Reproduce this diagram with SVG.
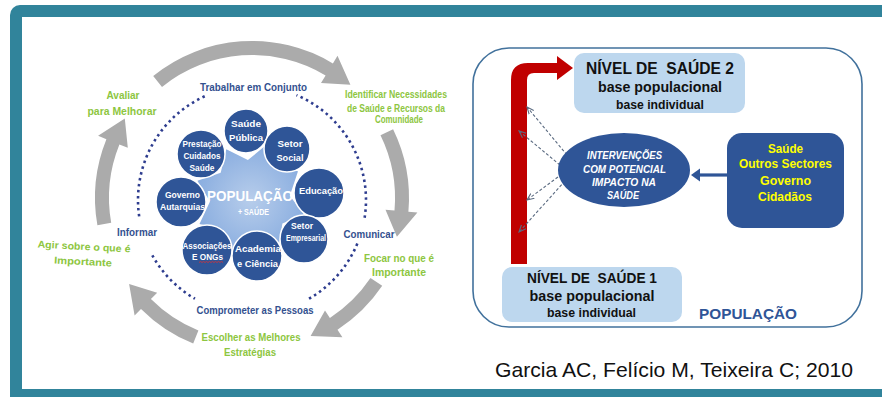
<svg xmlns="http://www.w3.org/2000/svg" width="882" height="397" viewBox="0 0 882 397">
<defs>
<style>
text{font-family:"Liberation Sans",Arial,sans-serif;font-weight:bold;text-anchor:middle}
.gl{fill:#8DC641;font-size:10px}
.nv{fill:#34518F;font-size:10px}
.wc{fill:#fff;font-size:9px}
.circ{fill:#2F5597;stroke:#fff;stroke-width:1.5}
.garrow{fill:#ABABAB}
.dot{fill:none;stroke:#2E3D8F;stroke-width:2.6;stroke-dasharray:2.5 3.5}
.dash{fill:none;stroke:#5A6A80;stroke-width:1.1;stroke-dasharray:3 2;marker-end:url(#ah)}
.bk{fill:#111;white-space:pre}
.yl{fill:#FFFF00;font-size:13px}
.it{fill:#fff;font-size:10.5px;font-style:italic}
</style>
<marker id="ah" markerWidth="8" markerHeight="8" refX="7" refY="4" orient="auto" markerUnits="userSpaceOnUse">
<path d="M0,1 L7,4 L0,7" fill="none" stroke="#5A6A80" stroke-width="1.1"/>
</marker>
<radialGradient id="lb" cx="0.5" cy="0.5" r="0.5">
<stop offset="0" stop-color="#B7CDEB"/>
<stop offset="1" stop-color="#8CAFE0"/>
</radialGradient>
</defs>
<rect x="0" y="0" width="882" height="397" fill="#fff"/>
<g id="frame">
<rect x="10" y="5" width="900" height="420" rx="10" fill="#31849B"/>
<rect x="22" y="17" width="880" height="372" fill="#fff"/>
</g>

<g id="connectors">
<path class="garrow" d="M153.2,76.0 A157,157 0 0 1 332.9,63.4 L337.5,55.7 L350.4,84.8 L321.0,83.1 L325.6,75.4 A143,143 0 0 0 162.0,86.9 Z"/>
<path class="garrow" d="M393.1,129.2 A157,157 0 0 1 408.4,211.7 L417.4,212.5 L396.9,236.8 L385.5,209.7 L394.5,210.5 A143,143 0 0 0 380.5,135.3 Z"/>
<path class="garrow" d="M382.2,285.8 A157,157 0 0 1 337.5,329.7 L342.4,337.2 L310.6,336.1 L325.0,310.4 L329.9,317.9 A143,143 0 0 0 370.5,278.0 Z"/>
<path class="garrow" d="M193.2,343.6 A157,157 0 0 1 141.0,309.0 L134.6,315.4 L129.1,284.0 L157.2,292.8 L150.9,299.1 A143,143 0 0 0 198.4,330.6 Z"/>
<path class="garrow" d="M97.4,225.3 A157,157 0 0 1 106.4,139.2 L98.1,135.8 L124.8,118.5 L127.8,147.8 L119.4,144.4 A143,143 0 0 0 111.2,222.8 Z"/>
<path class="dot" d="M204.7,96.3 A114,114 0 0 0 139.4,217.8"/>
<path class="dot" d="M152.3,255.3 A114,114 0 0 0 195,298.7"/>
<path class="dot" d="M309,298.7 A114,114 0 0 0 357.7,242.7"/>
<path class="dot" d="M364.6,217.8 A114,114 0 0 0 296.5,95.1"/>
<path d="M511,264 L511,80 Q511,63 528,63 L557,63 L557,56 L573,68 L557,80 L557,73 L534,73 Q527,73 527,80 L527,264 Z" fill="#C00000"/>
<path class="dash" d="M567,155 L527,107"/>
<path class="dash" d="M560,165 L519,131"/>
<path class="dash" d="M562,174 L527,200"/>
<path class="dash" d="M565,181 L519,232"/>
<path d="M727,175 L698,175" stroke="#2F5597" stroke-width="3.2" fill="none"/>
<path d="M700,168.5 L691,175 L700,181.5 Z" fill="#2F5597"/>
</g>

<g id="labels-left">
<text class="nv" x="253.5" y="91" textLength="107" lengthAdjust="spacingAndGlyphs">Trabalhar em Conjunto</text>
<text class="gl" x="123" y="99" textLength="33" lengthAdjust="spacingAndGlyphs">Avaliar</text>
<text class="gl" x="122" y="115" textLength="69" lengthAdjust="spacingAndGlyphs">para Melhorar</text>
<text class="gl" x="396" y="98" textLength="102" lengthAdjust="spacingAndGlyphs">Identificar Necessidades</text>
<text class="gl" x="396" y="112" textLength="98" lengthAdjust="spacingAndGlyphs">de Saúde e Recursos da</text>
<text class="gl" x="399" y="123" textLength="48" lengthAdjust="spacingAndGlyphs">Comunidade</text>
<text class="nv" x="137" y="236" textLength="40" lengthAdjust="spacingAndGlyphs">Informar</text>
<text class="nv" x="369" y="238" textLength="51" lengthAdjust="spacingAndGlyphs">Comunicar</text>
<text class="gl" x="84" y="250" textLength="93" lengthAdjust="spacingAndGlyphs" transform="rotate(3 84 247)">Agir sobre o que é</text>
<text class="gl" x="83" y="265" textLength="58" lengthAdjust="spacingAndGlyphs" transform="rotate(3 83 262)">Importante</text>
<text class="gl" x="399" y="262" textLength="70" lengthAdjust="spacingAndGlyphs">Focar no que é</text>
<text class="gl" x="399" y="276" textLength="54" lengthAdjust="spacingAndGlyphs">Importante</text>
<text class="nv" x="255" y="314" textLength="117" lengthAdjust="spacingAndGlyphs">Comprometer as Pessoas</text>
<text class="gl" x="251" y="341" textLength="99" lengthAdjust="spacingAndGlyphs">Escolher as Melhores</text>
<text class="gl" x="250" y="356" textLength="52" lengthAdjust="spacingAndGlyphs">Estratégias</text>
</g>

<g id="populacao-center">
<polygon fill="url(#lb)" points="220.7,172.7 226.3,149.2 247.9,160.1 265.0,146.0 272.4,166.8 298.0,171.2 289.8,195.8 304.1,214.5 282.4,223.5 278.4,248.2 254.9,239.7 233.6,253.6 223.8,230.2 199.5,224.1 210.0,201.4 197.4,180.8"/>
</g>
<g id="governo">
<circle class="circ" cx="181" cy="202" r="25"/>
<text class="wc" x="182.5" y="198" textLength="35" lengthAdjust="spacingAndGlyphs">Governo</text>
<text class="wc" x="182.5" y="210" textLength="45" lengthAdjust="spacingAndGlyphs">Autarquias</text>
</g>
<g id="prestacao">
<circle class="circ" cx="201" cy="154" r="24"/>
<text class="wc" x="202" y="147" textLength="39" lengthAdjust="spacingAndGlyphs">Prestação</text>
<text class="wc" x="202" y="159" textLength="37" lengthAdjust="spacingAndGlyphs">Cuidados</text>
<text class="wc" x="202" y="171" textLength="25" lengthAdjust="spacingAndGlyphs">Saúde</text>
</g>
<g id="saude-publica">
<circle class="circ" cx="246" cy="131" r="22"/>
<text class="wc" x="246" y="127" font-size="10" textLength="30" lengthAdjust="spacingAndGlyphs">Saúde</text>
<text class="wc" x="246" y="141" font-size="10" textLength="34" lengthAdjust="spacingAndGlyphs">Pública</text>
</g>
<g id="setor-social">
<circle class="circ" cx="287" cy="149" r="23"/>
<text class="wc" x="290" y="147" font-size="10.5" textLength="25" lengthAdjust="spacingAndGlyphs">Setor</text>
<text class="wc" x="290" y="161" font-size="10.5" textLength="27" lengthAdjust="spacingAndGlyphs">Social</text>
</g>
<g id="educacao">
<circle class="circ" cx="319" cy="193" r="25"/>
<text class="wc" x="321" y="194" font-size="10" textLength="44" lengthAdjust="spacingAndGlyphs">Educação</text>
</g>
<g id="associacoes">
<circle class="circ" cx="207" cy="250" r="25"/>
<text class="wc" x="207" y="249" textLength="49" lengthAdjust="spacingAndGlyphs">Associações</text>
<text class="wc" x="207.5" y="260" textLength="31" lengthAdjust="spacingAndGlyphs">E ONGs</text>
<path d="M199,262.5 l1.5,-1 l1.5,1 l1.5,-1 l1.5,1 l1.5,-1 l1.5,1 l1.5,-1 l1.5,1 l1.5,-1 l1.5,1 l1.5,-1 l1.5,1 l1.5,-1 l1.5,1 l1.5,-1 l1.5,1" fill="none" stroke="#E03030" stroke-width="0.8"/>
</g>
<g id="academia">
<circle class="circ" cx="257" cy="256" r="25"/>
<text class="wc" x="258" y="252" font-size="11" textLength="46" lengthAdjust="spacingAndGlyphs">Academia</text>
<text class="wc" x="257.5" y="267" font-size="11" textLength="41" lengthAdjust="spacingAndGlyphs">e Ciência</text>
</g>
<g id="setor-empresarial">
<circle class="circ" cx="304" cy="239" r="24"/>
<text class="wc" x="302" y="229" textLength="22" lengthAdjust="spacingAndGlyphs">Setor</text>
<text class="wc" x="306" y="241" textLength="40" lengthAdjust="spacingAndGlyphs">Empresarial</text>
</g>
<g id="populacao-label">
<text x="250" y="201" fill="#fff" font-size="14.5" textLength="86" lengthAdjust="spacingAndGlyphs">POPULAÇÃO</text>
<text x="253.5" y="215" fill="#fff" font-size="9" textLength="31" lengthAdjust="spacingAndGlyphs">+ SAÚDE</text>
</g>

<g id="right-panel">
<rect x="473" y="48" width="389" height="279" rx="36" fill="none" stroke="#41719C" stroke-width="1.6"/>
</g>
<g id="nivel2">
<rect x="574" y="53" width="171" height="60" rx="10" fill="#BDD7EE"/>
<text class="bk" x="660" y="74" font-size="17" textLength="148" lengthAdjust="spacingAndGlyphs">NÍVEL DE  SAÚDE 2</text>
<text class="bk" x="660" y="92" font-size="15" textLength="124" lengthAdjust="spacingAndGlyphs">base populacional</text>
<text class="bk" x="660" y="109" font-size="12" textLength="88" lengthAdjust="spacingAndGlyphs">base individual</text>
</g>
<g id="nivel1">
<rect x="502" y="267" width="180" height="55" rx="10" fill="#BDD7EE"/>
<text class="bk" x="592" y="283" font-size="15" textLength="130" lengthAdjust="spacingAndGlyphs">NÍVEL DE  SAÚDE 1</text>
<text class="bk" x="592" y="301" font-size="15" textLength="125" lengthAdjust="spacingAndGlyphs">base populacional</text>
<text class="bk" x="591.5" y="317" font-size="12" textLength="89" lengthAdjust="spacingAndGlyphs">base individual</text>
</g>
<g id="intervencoes">
<ellipse cx="624" cy="170" rx="66" ry="37" fill="#2F5597"/>
<text class="it" x="624.5" y="159" textLength="75" lengthAdjust="spacingAndGlyphs">INTERVENÇÕES</text>
<text class="it" x="624.5" y="173" textLength="83" lengthAdjust="spacingAndGlyphs">COM POTENCIAL</text>
<text class="it" x="624" y="186" textLength="64" lengthAdjust="spacingAndGlyphs">IMPACTO NA</text>
<text class="it" x="623" y="199" textLength="32" lengthAdjust="spacingAndGlyphs">SAÚDE</text>
</g>
<g id="atores">
<rect x="727" y="133" width="117" height="95" rx="15" fill="#2F5597"/>
<text class="yl" x="785.5" y="153" textLength="35" lengthAdjust="spacingAndGlyphs">Saúde</text>
<text class="yl" x="785.5" y="168" textLength="93" lengthAdjust="spacingAndGlyphs">Outros Sectores</text>
<text class="yl" x="785.5" y="185" textLength="51" lengthAdjust="spacingAndGlyphs">Governo</text>
<text class="yl" x="785" y="201" textLength="54" lengthAdjust="spacingAndGlyphs">Cidadãos</text>
</g>
<g id="populacao-right">
<text x="748" y="319" fill="#2F5597" font-size="15" textLength="98" lengthAdjust="spacingAndGlyphs">POPULAÇÃO</text>
</g>
<g id="citation">
<text x="674" y="377" fill="#111" font-size="21" style="font-weight:normal" textLength="358" lengthAdjust="spacingAndGlyphs">Garcia AC, Felício M, Teixeira C; 2010</text>
</g>
</svg>
